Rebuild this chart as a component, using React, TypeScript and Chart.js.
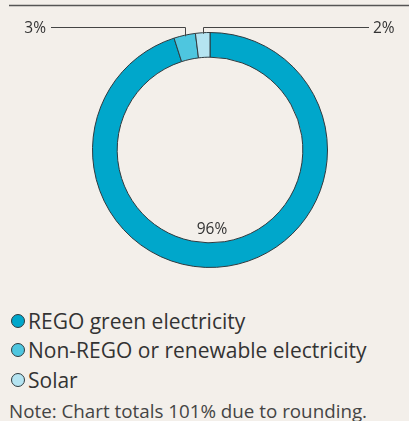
import React, { useEffect, useRef } from "react";
import { Chart, registerables } from "chart.js";

Chart.register(...registerables);

const categories = ["REGO green electricity", "Non-REGO or renewable electricity", "Solar"];
const values = [96, 3, 2];
const valueLabels = ["96%", "3%", "2%"];
const colors = ["#00a7cb", "#4ec6df", "#b5e4f1"];
const note = "Note: Chart totals 101% due to rounding.";

const FONT = "'Open Sans', Lato, sans-serif";
const BG = "#f3efea";
const INK = "#333333";

const labelPlugin = {
  id: "labelPlugin",
  afterDraw(chart: any) {
    const ctx = chart.ctx as CanvasRenderingContext2D;
    const meta = chart.getDatasetMeta(0);
    ctx.save();
    // top rule
    ctx.strokeStyle = "#555";
    ctx.lineWidth = 1.5;
    ctx.beginPath();
    ctx.moveTo(9, 5.5);
    ctx.lineTo(409, 5.5);
    ctx.stroke();

    ctx.font = `15.5px ${FONT}`;
    ctx.fillStyle = INK;
    ctx.textBaseline = "middle";
    ctx.strokeStyle = "#444";
    ctx.lineWidth = 1;
    const lineY = 27.5;

    // 96% label inside bottom
    const a0: any = meta.data[0];
    ctx.textAlign = "center";
    ctx.fillText(valueLabels[0], a0.x + 2, a0.y + a0.innerRadius - 13);

    // 3% label left
    const a1: any = meta.data[1];
    {
      const mid = (a1.startAngle + a1.endAngle) / 2;
      const px = a1.x + Math.cos(mid) * a1.outerRadius;
      const py = a1.y + Math.sin(mid) * a1.outerRadius;
      ctx.beginPath();
      ctx.moveTo(51, lineY);
      ctx.lineTo(Math.round(px) + 0.5, lineY);
      ctx.lineTo(Math.round(px) + 0.5, py + 1);
      ctx.stroke();
      ctx.textAlign = "right";
      ctx.fillText(valueLabels[1], 46, lineY + 1);
    }
    // 2% label right
    const a2: any = meta.data[2];
    {
      const mid = (a2.startAngle + a2.endAngle) / 2;
      const px = a2.x + Math.cos(mid) * a2.outerRadius;
      const py = a2.y + Math.sin(mid) * a2.outerRadius;
      ctx.beginPath();
      ctx.moveTo(369, lineY);
      ctx.lineTo(Math.round(px) + 0.5, lineY);
      ctx.lineTo(Math.round(px) + 0.5, py + 1);
      ctx.stroke();
      ctx.textAlign = "left";
      ctx.fillText(valueLabels[2], 373, lineY + 1);
    }
    ctx.restore();
  },
};

export default function App() {
  const ref = useRef<HTMLCanvasElement>(null);
  useEffect(() => {
    document.body.style.margin = "0";
    document.body.style.background = BG;
    const chart = new Chart(ref.current!, {
      type: "doughnut",
      data: {
        labels: categories,
        datasets: [
          {
            data: values,
            backgroundColor: colors,
            borderColor: "#2f3a3f",
            borderWidth: 1,
          },
        ],
      },
      options: {
        animation: false,
        responsive: false,
        maintainAspectRatio: false,
        cutout: "79%",
        rotation: 0,
        layout: { padding: { top: 32, bottom: 17, left: 11, right: 0 } },
        plugins: {
          legend: { display: false },
          tooltip: { enabled: false },
        },
      },
      plugins: [labelPlugin],
    });
    return () => chart.destroy();
  }, []);

  return (
    <div style={{ width: 409, height: 421, background: BG, fontFamily: FONT, color: INK, position: "relative", overflow: "hidden" }}>
      <canvas ref={ref} width={409} height={285} style={{ display: "block", width: 409, height: 285 }} />
      <div style={{ position: "absolute", left: 11, top: 306 }}>
        {categories.map((c, i) => (
          <div key={c} style={{ display: "flex", alignItems: "center", height: 29.5, fontSize: 21, whiteSpace: "nowrap" }}>
            <span
              style={{
                width: 14,
                height: 14,
                borderRadius: "50%",
                background: colors[i],
                border: "1px solid #2f3a3f",
                display: "inline-block",
                marginRight: 3,
                boxSizing: "border-box",
                flexShrink: 0,
              }}
            />
            <span>{c}</span>
          </div>
        ))}
      </div>
      <div style={{ position: "absolute", left: 9, top: 398, fontSize: 18.8, lineHeight: "26px", color: "#444", whiteSpace: "nowrap" }}>{note}</div>
    </div>
  );
}
